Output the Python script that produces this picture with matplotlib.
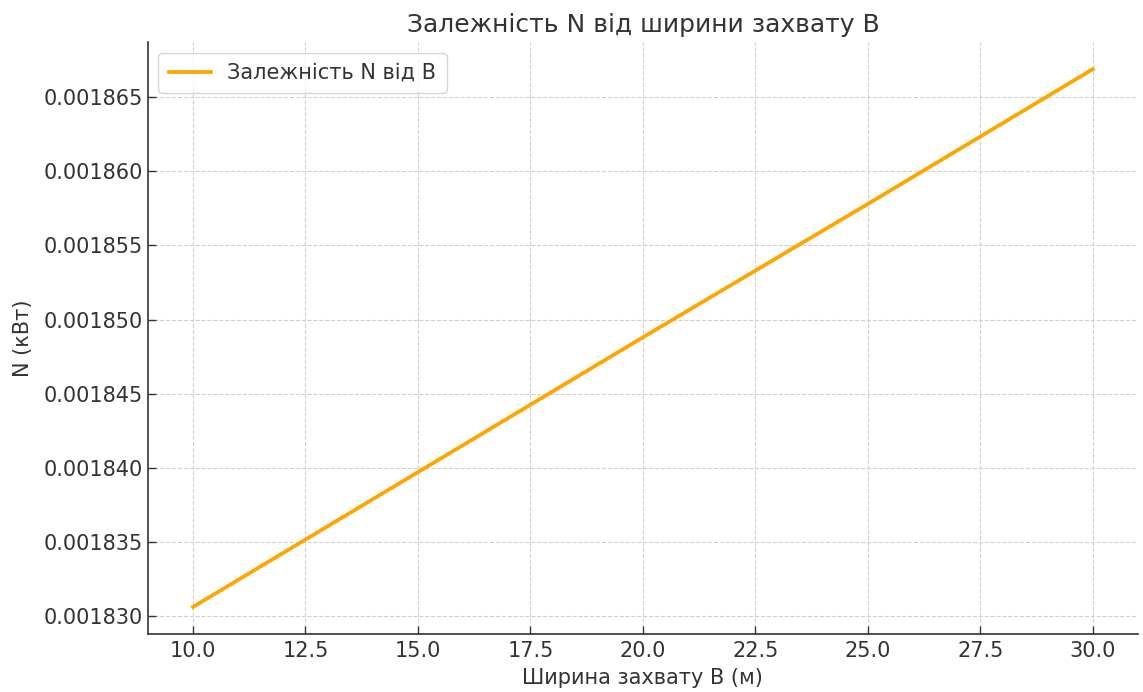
import matplotlib
matplotlib.use("Agg")
import matplotlib.pyplot as plt

# ширина захвату B (м) і потужність N (кВт)
B = [10.0, 15.0, 20.0, 25.0, 30.0]
N = [0.0018306, 0.0018397, 0.0018488, 0.0018578, 0.0018669]

text_color = '#333333'
plt.rcParams['font.family'] = ['DejaVu Sans']
plt.rcParams['text.color'] = text_color
plt.rcParams['axes.labelcolor'] = text_color
plt.rcParams['xtick.color'] = text_color
plt.rcParams['ytick.color'] = text_color

fig = plt.figure(figsize=(11.43, 6.92), dpi=100)
ax = fig.add_axes([0.1295, 0.084, 0.866, 0.855])

ax.plot(B, N, color='orange', linewidth=2.7, label='Залежність N від B')

ax.set_title('Залежність N від ширини захвату B', fontsize=18, pad=7)
ax.set_xlabel('Ширина захвату B (м)', fontsize=15, labelpad=5)
ax.set_ylabel('N (кВт)', fontsize=15, labelpad=8)

ax.set_xticks([10, 12.5, 15, 17.5, 20, 22.5, 25, 27.5, 30])
ax.set_xticklabels(['10.0', '12.5', '15.0', '17.5', '20.0', '22.5', '25.0', '27.5', '30.0'])
ax.set_yticks([0.00183, 0.001835, 0.00184, 0.001845, 0.00185, 0.001855, 0.00186, 0.001865])
ax.set_yticklabels(['0.001830', '0.001835', '0.001840', '0.001845',
                    '0.001850', '0.001855', '0.001860', '0.001865'])
ax.tick_params(direction='in', labelsize=15, length=6, width=1)
ax.tick_params(axis='x', pad=5)

ax.grid(True, linestyle='--', color='#d0d0d0', linewidth=0.8)
ax.spines['top'].set_visible(False)
ax.spines['right'].set_visible(False)
for s in ['left', 'bottom']:
    ax.spines[s].set_color(text_color)
    ax.spines[s].set_linewidth(1.2)

ax.legend(loc='upper left', fontsize=15, frameon=True, borderpad=0.5)

fig.savefig('out.png', dpi=100)
